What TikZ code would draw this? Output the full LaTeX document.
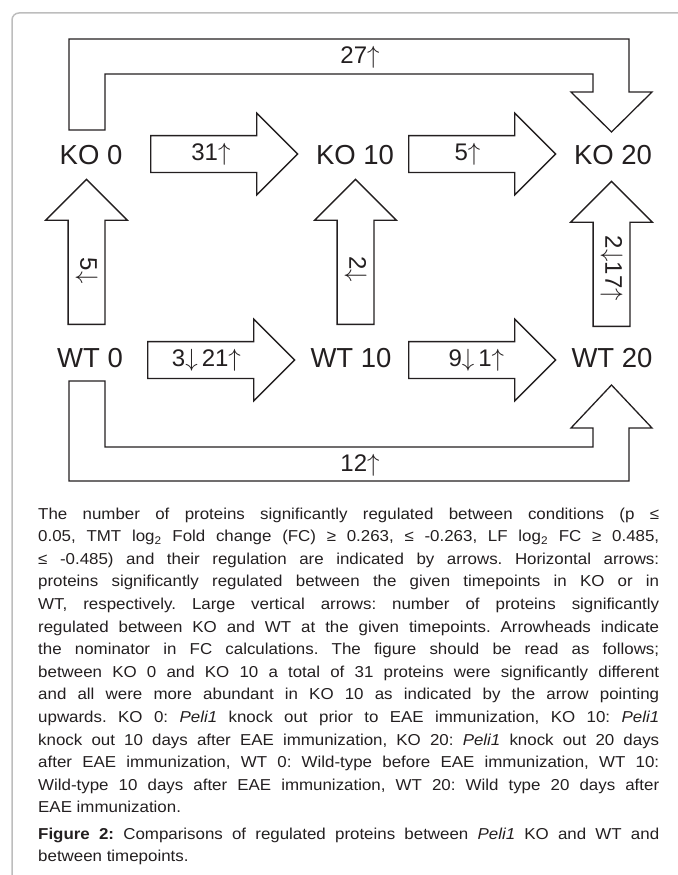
\documentclass[tikz,border=0pt]{standalone}
\usepackage{fontspec}
\setmainfont{Liberation Sans}
\newfontfamily\legendfont{Liberation Sans}[FakeStretch=1.07]
\usetikzlibrary{shapes.arrows,calc}
\definecolor{ink}{HTML}{231F20}
\definecolor{frame}{HTML}{BDBDBD}
\newcommand{\up}{$\uparrow$}
\newcommand{\dn}{$\downarrow$}
\tikzset{
  every node/.style={text=ink},
  cond/.style={font=\fontsize{27.5}{30}\selectfont,inner sep=0pt},
  blockarrow/.style={single arrow,draw=ink,line width=1.3pt,fill=white,inner sep=17.75pt,single arrow head extend=22.5pt,minimum height=147pt,anchor=tail},
  uparrow/.style={blockarrow,shape border rotate=90,minimum height=145pt},
  count/.style={font=\fontsize{24}{26}\selectfont,inner sep=0pt},
  vcount/.style={count,rotate=-90},
  bent/.style={draw=ink,line width=1.3pt,line join=miter},
  legend/.style={font=\legendfont\fontsize{15.8}{22.6}\selectfont\frenchspacing,text width=621pt,align=justify,inner sep=0pt,anchor=base west},
}

\begin{document}
\begin{tikzpicture}[x=1pt,y=-1pt]
\useasboundingbox (0,0) rectangle (677,875);
\draw[frame,line width=1.5pt,rounded corners=7pt] (12,880) -- (12,13) -- (680,13);

\node[cond] (ko0) at (91,155) {KO 0};
\node[cond] (ko10) at (355,155) {KO 10};
\node[cond] (ko20) at (613,155) {KO 20};
\node[cond] (wt0) at (90,358) {WT 0};
\node[cond] (wt10) at (351,358) {WT 10};
\node[cond] (wt20) at (612,358) {WT 20};

\node[blockarrow] (ko0ko10) at (150,154) {};
\node[blockarrow] (ko10ko20) at (408,154) {};
\node[blockarrow] (wt0wt10) at (147,360) {};
\node[blockarrow] (wt10wt20) at (408,360) {};
\node[uparrow] (wt0ko0) at (86.5,325) {};
\node[uparrow] (wt10ko10) at (355.5,325) {};
\node[uparrow] (wt20ko20) at (611.5,327) {};

\draw[bent] (69,130) -- (69,39) -- (629,39) -- (629,92) -- (652,92) -- (611.5,132)
  -- (571,92) -- (593,92) -- (593,74) -- (105,74) -- (105,130) -- cycle;
\draw[bent] (69,381) -- (69,481) -- (629,481) -- (629,428) -- (652,428) -- (611.5,385)
  -- (571,428) -- (593,428) -- (593,447) -- (105,447) -- (105,381) -- cycle;

\node[count] (n27) at (360,57) {27\up};
\node[count] (n12) at (360,465) {12\up};
\node[count] (n31) at ($(ko0ko10.tail)!0.41!(ko0ko10.tip)$) {31\up};
\node[count] (n5) at ($(ko10ko20.tail)!0.4!(ko10ko20.tip)$) {5\up};
\node[count] (n321) at ($(wt0wt10.tail)!0.4!(wt0wt10.tip)$) {3\dn\,21\up};
\node[count] (n91) at ($(wt10wt20.tail)!0.46!(wt10wt20.tip)$) {9\dn\,1\up};
\node[vcount] (n5v) at ($(wt0ko0.tail)!0.37!(wt0ko0.tip)$) {5\dn};
\node[vcount] (n2v) at ($(wt10ko10.tail)!0.38!(wt10ko10.tip)$) {2\dn};
\node[vcount] (n217v) at ($(wt20ko20.tail)!0.4!(wt20ko20.tip)$) {2\dn17\up};

\node[legend] (legend) at (38,519) {The number of proteins significantly regulated between conditions (p ≤\linebreak
0.05, TMT log\textsubscript{2} Fold change (FC) ≥ 0.263, ≤ -0.263, LF log\textsubscript{2} FC ≥ 0.485,\linebreak
≤ -0.485) and their regulation are indicated by arrows. Horizontal arrows:\linebreak
proteins significantly regulated between the given timepoints in KO or in\linebreak
WT, respectively. Large vertical arrows: number of proteins significantly\linebreak
regulated between KO and WT at the given timepoints. Arrowheads indicate\linebreak
the nominator in FC calculations. The figure should be read as follows;\linebreak
between KO 0 and KO 10 a total of 31 proteins were significantly different\linebreak
and all were more abundant in KO 10 as indicated by the arrow pointing\linebreak
upwards. KO 0: \textit{Peli1} knock out prior to EAE immunization, KO 10: \textit{Peli1}\linebreak
knock out 10 days after EAE immunization, KO 20: \textit{Peli1} knock out 20 days\linebreak
after EAE immunization, WT 0: Wild-type before EAE immunization, WT 10:\linebreak
Wild-type 10 days after EAE immunization, WT 20: Wild type 20 days after\linebreak
EAE immunization.};
\node[legend] (figcap) at (38,839) {\textbf{Figure 2:} Comparisons of regulated proteins between \textit{Peli1} KO and WT and\linebreak
between timepoints.};
\end{tikzpicture}
\end{document}
